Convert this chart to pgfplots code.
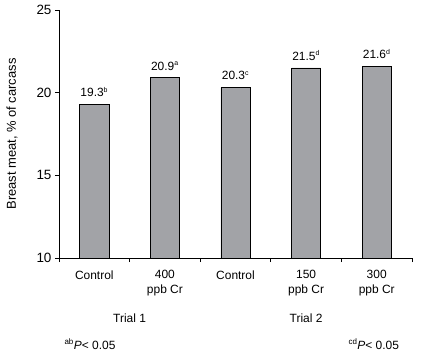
\documentclass[border=0pt]{standalone}
\usepackage{pgfplots}
\pgfplotsset{compat=1.18}
\usepackage{fontspec}
\setmainfont{Liberation Sans}
\definecolor{barfill}{RGB}{162,163,167}
\begin{document}
\begin{tikzpicture}
\path[use as bounding box] (-59bp,-98bp) rectangle (362bp,258bp);
\begin{axis}[
  at={(0,0)}, anchor=south west,
  scale only axis, width=353bp, height=248bp,
  xmin=-0.5, xmax=4.5, ymin=10, ymax=25,
  axis x line=bottom, axis y line=left,
  axis line style={-, line width=0.6pt},
  xtick={-0.5,0.5,1.5,2.5,3.5,4.5},
  xticklabels={},
  extra x ticks={0,1,2,3,4},
  extra x tick labels={Control,{400\\ppb Cr},Control,{150\\ppb Cr},{300\\ppb Cr}},
  extra x tick style={major tick length=0pt, tick label style={align=center, yshift=-9bp}},
  ytick={10,15,20,25},
  tick align=outside,
  major tick length=4bp,
  tick style={black, line width=0.6pt},
  /pgf/number format/assume math mode=true,
  tick label style={font=\fontsize{12}{15}\selectfont},
  yticklabel style={font=\fontsize{13.5}{15}\selectfont},
  ylabel={Breast meat, \% of carcass},
  ylabel style={font=\fontsize{13}{15}\selectfont, at={(axis description cs:0,0.5)}, anchor=center, yshift=47bp},
  clip=false,
]
\addplot[ybar, bar width=29bp, fill=barfill, draw=black, line width=0.6pt,
  nodes near coords={\pgfplotspointmeta},
  point meta=explicit symbolic,
  every node near coord/.append style={font=\fontsize{12}{14}\selectfont, anchor=south, yshift=4bp, black}]
  table[meta=lab] {
x y lab
0 19.3 19.3\textsuperscript{\scriptsize b}
1 20.9 20.9\textsuperscript{\scriptsize a}
2 20.3 20.3\textsuperscript{\scriptsize c}
3 21.5 21.5\textsuperscript{\scriptsize d}
4 21.6 21.6\textsuperscript{\scriptsize d}
};
\node[font=\fontsize{12}{14}\selectfont] at (axis cs:0.5,10) [yshift=-60bp] {Trial 1};
\node[font=\fontsize{12}{14}\selectfont] at (axis cs:3,10) [yshift=-60bp] {Trial 2};
\end{axis}
\node[font=\fontsize{12}{14}\selectfont, anchor=west] at (2bp,-86bp) {\textsuperscript{ab}\textit{P}< 0.05};
\node[font=\fontsize{12}{14}\selectfont, anchor=west] at (286bp,-86bp) {\textsuperscript{cd}\textit{P}< 0.05};
\end{tikzpicture}
\end{document}
